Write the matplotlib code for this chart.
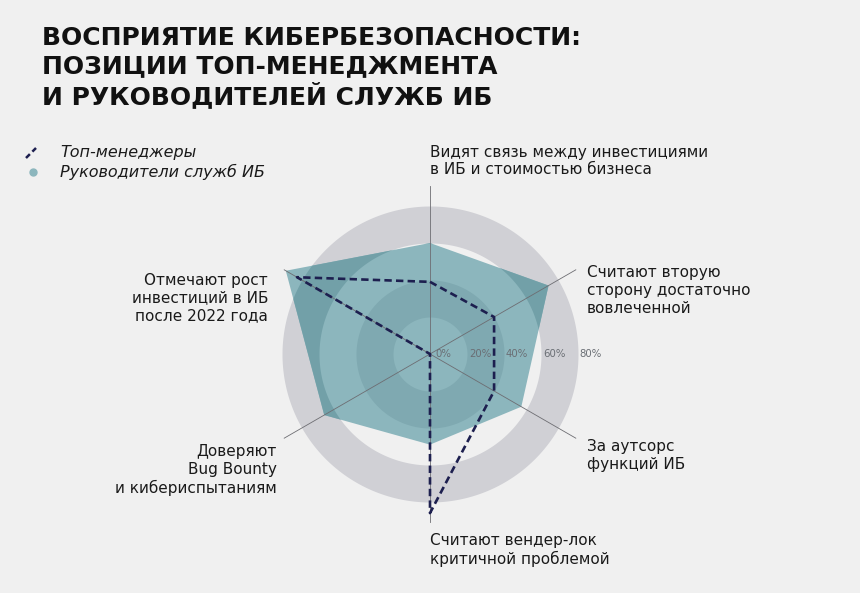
import numpy as np
import matplotlib.pyplot as plt
from matplotlib.lines import Line2D

W, H = 860, 593

categories = [
    "Видят связь между инвестициями\nв ИБ и стоимостью бизнеса",
    "Считают вторую\nсторону достаточно\nвовлеченной",
    "За аутсорс\nфункций ИБ",
    "Считают вендер-лок\nкритичной проблемой",
    "Доверяют\nBug Bounty\nи кибериспытаниям",
    "Отмечают рост\nинвестиций в ИБ\nпосле 2022 года",
]
top_managers = [39, 40, 40, 86, 0, 83]
security_heads = [60, 74, 57, 49, 66, 90]
ticks = [0, 20, 40, 60, 80]
series_names = ["Топ-менеджеры", "Руководители служб ИБ"]

BG = "#f0f0f0"
RING = "#d0d0d5"
TEAL = "#8cb6bd"
TEAL_RING_IN = "#7fa9b1"
TEAL_RING_OUT = "#72a0a8"
NAVY = "#1d1f4f"
AXIS = "#6d6d72"

plt.rcParams["font.family"] = ["DejaVu Sans"]


def px(x, y):
    return x / W, 1 - y / H


fig = plt.figure(figsize=(W / 100, H / 100), dpi=100, facecolor=BG)

# polar axes, centre at (430, 354) px, 1 unit = 1.85 px
cx, cy = px(430, 354)
rmax = 92
rw = rmax * 1.85 / W
rh = rmax * 1.85 / H
ax = fig.add_axes([cx - rw, cy - rh, 2 * rw, 2 * rh], projection="polar")
ax.set_theta_zero_location("N")
ax.set_theta_direction(-1)
ax.set_ylim(0, rmax)
ax.axis("off")

n = len(categories)
angles = np.arange(n) * 2 * np.pi / n
th = np.linspace(0, 2 * np.pi, 400)

# background rings
bands = [(20, 40, TEAL_RING_IN), (60, 80, TEAL_RING_OUT)]
for lo, hi, _ in bands:
    ax.fill_between(th, lo, hi, color=RING, lw=0, zorder=1)

# heads of security polygon
poly, = ax.fill(angles, security_heads, color=TEAL, lw=0, zorder=2)
for lo, hi, col in bands:
    band = ax.fill_between(th, lo, hi, color=col, lw=0, zorder=3)
    band.set_clip_path(poly)

# spokes
for a in angles:
    ax.plot([a, a], [0, 91], color=AXIS, lw=0.6, zorder=4)

# top managers dashed line
ang_c = np.append(angles, angles[0])
tm_c = np.append(top_managers, top_managers[0])
ax.plot(ang_c, tm_c, color=NAVY, lw=1.9, ls=(0, (2.8, 1.6)), zorder=5)

# radial tick labels along the right spoke direction
for t in ticks:
    ax.text(np.pi / 2, t + 7, f"{t}%", ha="center", va="center",
            fontsize=7.3, color="#6a6e74", zorder=6)

# category labels
label_pos = [
    (430, 161, "left"),
    (587, 290, "left"),
    (587, 455, "left"),
    (430, 550, "left"),
    (277, 470, "right"),
    (268, 298, "right"),
]
for text, (x, y, ha) in zip(categories, label_pos):
    fig.text(*px(x, y), text, ha=ha, va="center", ma=ha, fontsize=11,
             color="#1a1a1a", linespacing=1.25)

# title
fig.text(*px(42, 68),
         "ВОСПРИЯТИЕ КИБЕРБЕЗОПАСНОСТИ:\nПОЗИЦИИ ТОП-МЕНЕДЖМЕНТА\nИ РУКОВОДИТЕЛЕЙ СЛУЖБ ИБ",
         ha="left", va="center", fontsize=18, fontweight="bold",
         color="#111111", linespacing=1.2)

# legend
x0, y0 = px(26, 158)
x1, y1 = px(36, 148)
fig.add_artist(Line2D([x0, x1], [y0, y1], transform=fig.transFigure,
                      color=NAVY, lw=1.8, ls=(0, (2.2, 1.4))))
fig.add_artist(Line2D([px(33, 172)[0]], [px(33, 172)[1]], transform=fig.transFigure,
                      marker="o", ms=5, color=TEAL, lw=0))
fig.text(*px(60, 153), series_names[0], ha="left", va="center",
         fontsize=11.5, style="italic", color="#1a1a1a")
fig.text(*px(60, 172), series_names[1], ha="left", va="center",
         fontsize=11.5, style="italic", color="#1a1a1a")

fig.savefig("out.png", dpi=100, facecolor=BG)
